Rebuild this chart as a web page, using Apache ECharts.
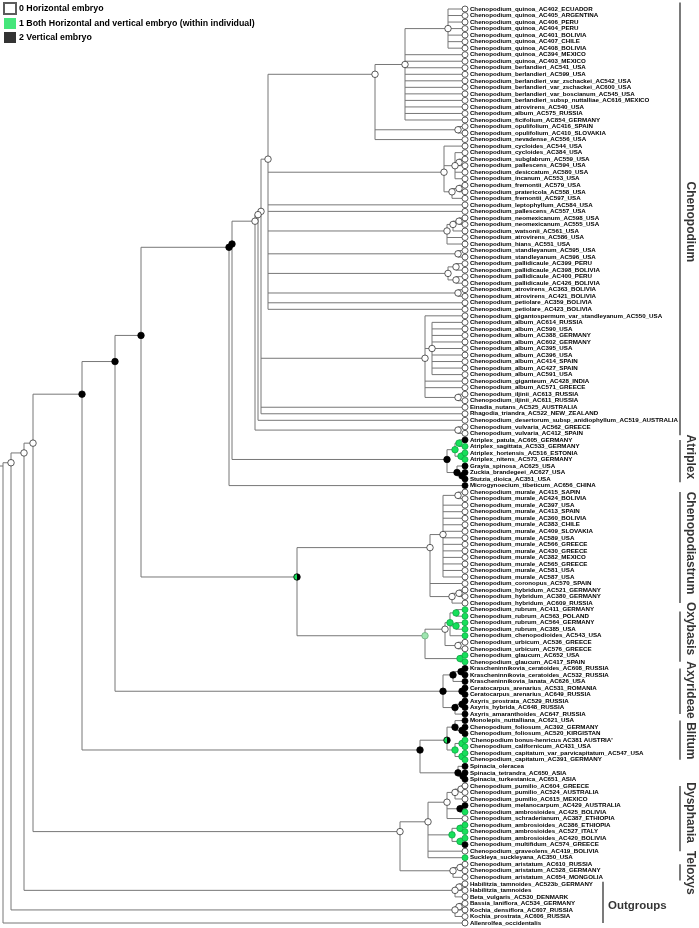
<!DOCTYPE html>
<html><head><meta charset="utf-8">
<script src="https://cdn.jsdelivr.net/npm/echarts@6/dist/echarts.min.js"></script>
<style>html,body{margin:0;padding:0;background:#fff}#c{width:699px;height:928px}</style>
</head><body><div id="c"></div>
<script>
const leafNames = [
"Chenopodium_quinoa_AC402_ECUADOR","Chenopodium_quinoa_AC405_ARGENTINA","Chenopodium_quinoa_AC406_PERU","Chenopodium_quinoa_AC404_PERU",
"Chenopodium_quinoa_AC401_BOLIVIA","Chenopodium_quinoa_AC407_CHILE","Chenopodium_quinoa_AC408_BOLIVIA","Chenopodium_quinoa_AC394_MEXICO",
"Chenopodium_quinoa_AC403_MEXICO","Chenopodium_berlandieri_AC541_USA","Chenopodium_berlandieri_AC599_USA","Chenopodium_berlandieri_var_zschackei_AC542_USA",
"Chenopodium_berlandieri_var_zschackei_AC600_USA","Chenopodium_berlandieri_var_boscianum_AC545_USA","Chenopodium_berlandieri_subsp_nuttalliae_AC616_MEXICO",
"Chenopodium_atrovirens_AC540_USA","Chenopodium_album_AC575_RUSSIA","Chenopodium_ficifolium_AC854_GERMANY","Chenopodium_opulifolium_AC416_SPAIN",
"Chenopodium_opulifolium_AC410_SLOVAKIA","Chenopodium_nevadense_AC556_USA","Chenopodium_cycloides_AC544_USA","Chenopodium_cycloides_AC384_USA",
"Chenopodium_subglabrum_AC559_USA","Chenopodium_pallescens_AC594_USA","Chenopodium_desiccatum_AC580_USA","Chenopodium_incanum_AC553_USA",
"Chenopodium_fremontii_AC579_USA","Chenopodium_pratericola_AC558_USA","Chenopodium_fremontii_AC597_USA","Chenopodium_leptophyllum_AC584_USA",
"Chenopodium_pallescens_AC557_USA","Chenopodium_neomexicanum_AC598_USA","Chenopodium_neomexicanum_AC555_USA","Chenopodium_watsonii_AC561_USA",
"Chenopodium_atrovirens_AC586_USA","Chenopodium_hians_AC551_USA","Chenopodium_standleyanum_AC595_USA","Chenopodium_standleyanum_AC596_USA",
"Chenopodium_pallidicaule_AC399_PERU","Chenopodium_pallidicaule_AC398_BOLIVIA","Chenopodium_pallidicaule_AC400_PERU","Chenopodium_pallidicaule_AC426_BOLIVIA",
"Chenopodium_atrovirens_AC363_BOLIVIA","Chenopodium_atrovirens_AC421_BOLIVIA","Chenopodium_petiolare_AC359_BOLIVIA","Chenopodium_petiolare_AC423_BOLIVIA",
"Chenopodium_gigantospermum_var_standleyanum_AC550_USA","Chenopodium_album_AC614_RUSSIA","Chenopodium_album_AC590_USA","Chenopodium_album_AC388_GERMANY",
"Chenopodium_album_AC602_GERMANY","Chenopodium_album_AC395_USA","Chenopodium_album_AC396_USA","Chenopodium_album_AC414_SPAIN","Chenopodium_album_AC427_SPAIN",
"Chenopodium_album_AC591_USA","Chenopodium_giganteum_AC428_INDIA","Chenopodium_album_AC571_GREECE","Chenopodium_iljinii_AC613_RUSSIA","Chenopodium_iljinii_AC611_RUSSIA",
"Einadia_nutans_AC525_AUSTRALIA","Rhagodia_triandra_AC522_NEW_ZEALAND","Chenopodium_desertorum_subsp_anidiophyllum_AC519_AUSTRALIA",
"Chenopodium_vulvaria_AC562_GREECE","Chenopodium_vulvaria_AC412_SPAIN",
"Atriplex_patula_AC605_GERMANY","Atriplex_sagittata_AC533_GERMANY","Atriplex_hortensis_AC516_ESTONIA","Atriplex_nitens_AC573_GERMANY",
"Grayia_spinosa_AC625_USA","Zuckia_brandegeei_AC627_USA","Stutzia_dioica_AC351_USA","Microgynoecium_tibeticum_AC656_CHINA",
"Chenopodium_murale_AC415_SAPIN","Chenopodium_murale_AC424_BOLIVIA","Chenopodium_murale_AC397_USA","Chenopodium_murale_AC413_SPAIN",
"Chenopodium_murale_AC360_BOLIVIA","Chenopodium_murale_AC383_CHILE","Chenopodium_murale_AC409_SLOVAKIA","Chenopodium_murale_AC589_USA",
"Chenopodium_murale_AC566_GREECE","Chenopodium_murale_AC430_GREECE","Chenopodium_murale_AC382_MEXICO","Chenopodium_murale_AC565_GREECE",
"Chenopodium_murale_AC581_USA","Chenopodium_murale_AC587_USA","Chenopodium_coronopus_AC570_SPAIN","Chenopodium_hybridum_AC521_GERMANY",
"Chenopodium_hybridum_AC380_GERMANY","Chenopodium_hybridum_AC609_RUSSIA","Chenopodium_rubrum_AC411_GERMANY","Chenopodium_rubrum_AC563_POLAND",
"Chenopodium_rubrum_AC564_GERMANY","Chenopodium_rubrum_AC385_USA","Chenopodium_chenopodioides_AC543_USA","Chenopodium_urbicum_AC536_GREECE",
"Chenopodium_urbicum_AC576_GREECE","Chenopodium_glaucum_AC652_USA","Chenopodium_glaucum_AC417_SPAIN",
"Krascheninnikovia_ceratoides_AC608_RUSSIA","Krascheninnikovia_ceratoides_AC532_RUSSIA","Krascheninnikovia_lanata_AC626_USA",
"Ceratocarpus_arenarius_AC531_ROMANIA","Ceratocarpus_arenarius_AC649_RUSSIA","Axyris_prostrata_AC529_RUSSIA","Axyris_hybrida_AC648_RUSSIA",
"Axyris_amaranthoides_AC647_RUSSIA","Monolepis_nuttalliana_AC621_USA","Chenopodium_foliosum_AC392_GERMANY","Chenopodium_foliosum_AC520_KIRGISTAN",
"'Chenopodium bonus-henricus AC381 AUSTRIA'","Chenopodium_californicum_AC431_USA","Chenopodium_capitatum_var_parvicapitatum_AC547_USA",
"Chenopodium_capitatum_AC391_GERMANY","Spinacia_oleracea","Spinacia_tetrandra_AC650_ASIA","Spinacia_turkestanica_AC651_ASIA",
"Chenopodium_pumilio_AC604_GREECE","Chenopodium_pumilio_AC524_AUSTRALIA","Chenopodium_pumilio_AC615_MEXICO","Chenopodium_melanocarpum_AC429_AUSTRALIA",
"Chenopodium_ambrosioides_AC425_BOLIVIA","Chenopodium_schraderianum_AC387_ETHIOPIA","Chenopodium_ambrosioides_AC386_ETHIOPIA",
"Chenopodium_ambrosioides_AC527_ITALY","Chenopodium_ambrosioides_AC420_BOLIVIA","Chenopodium_multifidum_AC574_GREECE","Chenopodium_graveolens_AC419_BOLIVIA",
"Suckleya_suckleyana_AC350_USA","Chenopodium_aristatum_AC610_RUSSIA","Chenopodium_aristatum_AC528_GERMANY","Chenopodium_aristatum_AC654_MONGOLIA",
"Habilitzia_tamnoides_AC523b_GERMANY","Habilitzia_tamnoides","Beta_vulgaris_AC530_DENMARK","Bassia_laniflora_AC534_GERMANY",
"Kochia_densiflora_AC607_RUSSIA","Kochia_prostrata_AC606_RUSSIA","Allenrolfea_occidentalis"
];
// 0 horizontal, 1 both, 2 vertical
const leafStates = [
0,0,0,0,0,0,0,0,0,0, 0,0,0,0,0,0,0,0,0,0, 0,0,0,0,0,0,0,0,0,0, 0,0,0,0,0,0,0,0,0,0,
0,0,0,0,0,0,0,0,0,0, 0,0,0,0,0,0,0,0,0,0, 0,0,0,0,0,0,
2,1,1,1,2,2,2,2,
0,0,0,0,0,0,0,0,0,0,0,0,0,0,0,0,0,0,
1,1,1,1,1,0,0,1,1,
2,2,2,2,2,2,2,2,2,2,2,
1,1,1,1,2,2,2,
0,0,0,2,1,0,1,1,1,2,0,1,
0,0,0,0,0,0,0,0,0,0
];
// internal node: [depth, state(-1 none,0,1,2,3 half,4 light), children...]; leaves = index
const tree =
[3,-1,
  [11,0,
    [24,0,
      [33,0,
        [82,2,
          [115,2,
            [141,2,
              [229,2,
                [232,2,
                  [255,0,
                    [258,0,
                      [261,0,
                        [268,0,
                          [375,0,
                            [405,0,[448,0,1,2,3,4,5,6,7],8,9,10,11,12,13,14,15,16,17,18],
                            [458,0,19,20],21],
                          [444,0,22,[455,0,23,[459,0,24,25],26,27],[452,0,[459,0,28,29],30]],
                          31,32,
                          [447,0,[453,0,[459,0,33,34],35],36,37],
                          [458,0,38,39],
                          [448,0,[456,0,40,41],[456,0,42,43]],
                          [458,0,44,45],
                          46,47],
                        [425,0,48,[432,0,49,50,51,52,53,54,55,56,57],58,59,[458,0,60,61]],
                        62,63],
                      64],
                    [458,0,65,66]],
                  [447,2,[455,1,[459,1,67,68],[461,1,69,70]],[457,2,71,[462,2,72,73]]]],
                74],
              [297,3,
                [430,0,[443,0,[458,0,75,76],77,78,79,80,81,82,83,84,85,86,87,88],89,[452,0,[459,0,90,91],92]],
                [425,4,[445,0,[450,1,[456,1,93,94],[456,1,95,96],97],[458,0,98,99]],[460,1,100,101]]]],
            [443,2,[453,2,[461,2,102,103],104],[462,2,105,106],[455,2,[462,2,107,108],109]]],
          [420,2,
            [447,3,[455,2,110,[462,2,111,112]],[455,1,[462,1,113,114],[462,1,115,116]]],
            [458,2,117,[463,2,118,119]]]],
        [400,0,
          [428,0,[447,0,[455,0,[461,0,120,121],122],[460,2,123,124],125],[452,1,[460,1,126,127],[460,1,128,129]],130,131],
          [453,0,[460,0,132,133],134]]],
      [455,0,[459,0,135,136],137]],
    [455,0,[459,0,138,139],140]],
  141];

const cladeNames = ["Chenopodium","Atriplex","Chenopodiastrum","Oxybasis","Axyrideae","Blitum","Dysphania","Teloxys"];
const cladeFrom  = [0.0, 67, 75, 93.3, 102, 110, 120, 132];
const cladeTo    = [66.3, 73.5, 92, 101, 109, 116, 130, 134.5];
const cladeMid   = [33.6, 69.6, 82.8, 95.9, 105.3, 113.1, 124.1, 133.3];
const outgroupFrom = 135, outgroupTo = 141, outgroupName = "Outgroups";
const stateNames = ["0 Horizontal embryo","1 Both Horizontal and vertical embryo (within individual)","2 Vertical embryo"];

const LEAF_X = 465, CLADE_X = 680, OUT_X = 603;
const GREEN = '#16e05a';
const half = new echarts.graphic.LinearGradient(0,0,1,0,[
  {offset:0,color:GREEN},{offset:0.5,color:GREEN},{offset:0.5,color:'#000'},{offset:1,color:'#000'}]);
function fill(s){ return s===0?'#ffffff':s===1?GREEN:s===2?'#000000':s===3?half:'#9fe6b0'; }
function border(s){ return s===0?'#333':s===1?'#0fa845':s===2?'#000':s===3?'#000':'#6fb080'; }

function layout(n){
  if(typeof n==='number') return {leaf:true,idx:n,x:LEAF_X,y:n,min:n,max:n,state:leafStates[n-1]};
  const [x,s,...ch]=n; const kids=ch.map(layout);
  const min=Math.min(...kids.map(k=>k.min)), max=Math.max(...kids.map(k=>k.max));
  return {leaf:false,x,state:s,kids,min,max,y:(min+max)/2};
}
const root = layout(tree);
const edges=[], nodes=[], leaves=[];
(function walk(n){
  if(n.leaf){ leaves.push({name:leafNames[n.idx-1],value:[n.x,n.y],itemStyle:{color:fill(n.state),borderColor:border(n.state)}}); return; }
  const ys=n.kids.map(k=>k.y);
  edges.push({coords:[[n.x,Math.min(...ys)],[n.x,Math.max(...ys)]]});
  n.kids.forEach(k=>{ edges.push({coords:[[n.x,k.y],[k.x,k.y]]}); walk(k); });
  if(n.state>=0) nodes.push({value:[n.x,n.y],itemStyle:{color:fill(n.state),borderColor:border(n.state)}});
})(root);
edges.push({coords:[[0,root.y],[root.x,root.y]]});

const bracketLines = cladeNames.map((c,i)=>({coords:[[CLADE_X,cladeFrom[i]],[CLADE_X,cladeTo[i]]]}));
bracketLines.push({coords:[[OUT_X,outgroupFrom-0.3],[OUT_X,outgroupTo]]});
const cladeLabels = cladeNames.map((c,i)=>({name:c,value:[CLADE_X+10,cladeMid[i]]}));

const chart = echarts.init(document.getElementById('c'),null,{renderer:'canvas'});
chart.setOption({
  animation:false,
  backgroundColor:'#fff',
  grid:{left:0,right:0,top:9,bottom:5},
  xAxis:{type:'value',min:0,max:699,show:false},
  yAxis:{type:'value',min:1,max:141,inverse:true,show:false},
  legend:{orient:'vertical',left:3,top:2,padding:0,itemWidth:12,itemHeight:11,itemGap:3,selectedMode:false,
    data:stateNames.map(n=>({name:n,icon:'rect'})),
    textStyle:{fontSize:8.8,lineHeight:11,fontWeight:'bold',color:'#000',fontFamily:'Liberation Sans',padding:[0,0,0,-2]}},
  series:[
    {type:'lines',coordinateSystem:'cartesian2d',polyline:true,clip:false,silent:true,
     lineStyle:{color:'#777',width:1,opacity:1},data:edges,z:1},
    {type:'lines',coordinateSystem:'cartesian2d',polyline:true,clip:false,silent:true,
     lineStyle:{color:'#222',width:1.2,opacity:1},data:bracketLines,z:1},
    {type:'scatter',symbol:'circle',symbolSize:6.5,silent:true,clip:false,data:nodes,
     itemStyle:{borderWidth:0.8,opacity:1},z:3},
    {type:'scatter',symbol:'circle',symbolSize:6,silent:true,clip:false,data:leaves,
     itemStyle:{borderWidth:0.8,opacity:1},z:3,
     label:{show:true,position:'right',distance:1.5,formatter:p=>p.name,fontSize:6.2,fontWeight:'bold',
       color:'#000',fontFamily:'Liberation Sans'}},
    {type:'scatter',symbolSize:0,silent:true,clip:false,data:cladeLabels,z:4,
     label:{show:true,position:'inside',rotate:-90,formatter:p=>p.name,fontSize:12,fontWeight:'bold',
       color:'#000',fontFamily:'Liberation Sans'}},
    {type:'scatter',symbolSize:0,silent:true,clip:false,z:4,
     data:[{name:outgroupName,value:[OUT_X+5,(outgroupFrom+outgroupTo)/2+0.3]}],
     label:{show:true,position:'right',distance:0,formatter:p=>p.name,fontSize:11.5,fontWeight:'bold',
       color:'#000',fontFamily:'Liberation Sans'}},
    {type:'scatter',name:stateNames[0],data:[],itemStyle:{color:'#fff',borderColor:'#333',borderWidth:1}},
    {type:'scatter',name:stateNames[1],data:[],itemStyle:{color:GREEN}},
    {type:'scatter',name:stateNames[2],data:[],itemStyle:{color:'#000'}}
  ]
});
</script></body></html>
